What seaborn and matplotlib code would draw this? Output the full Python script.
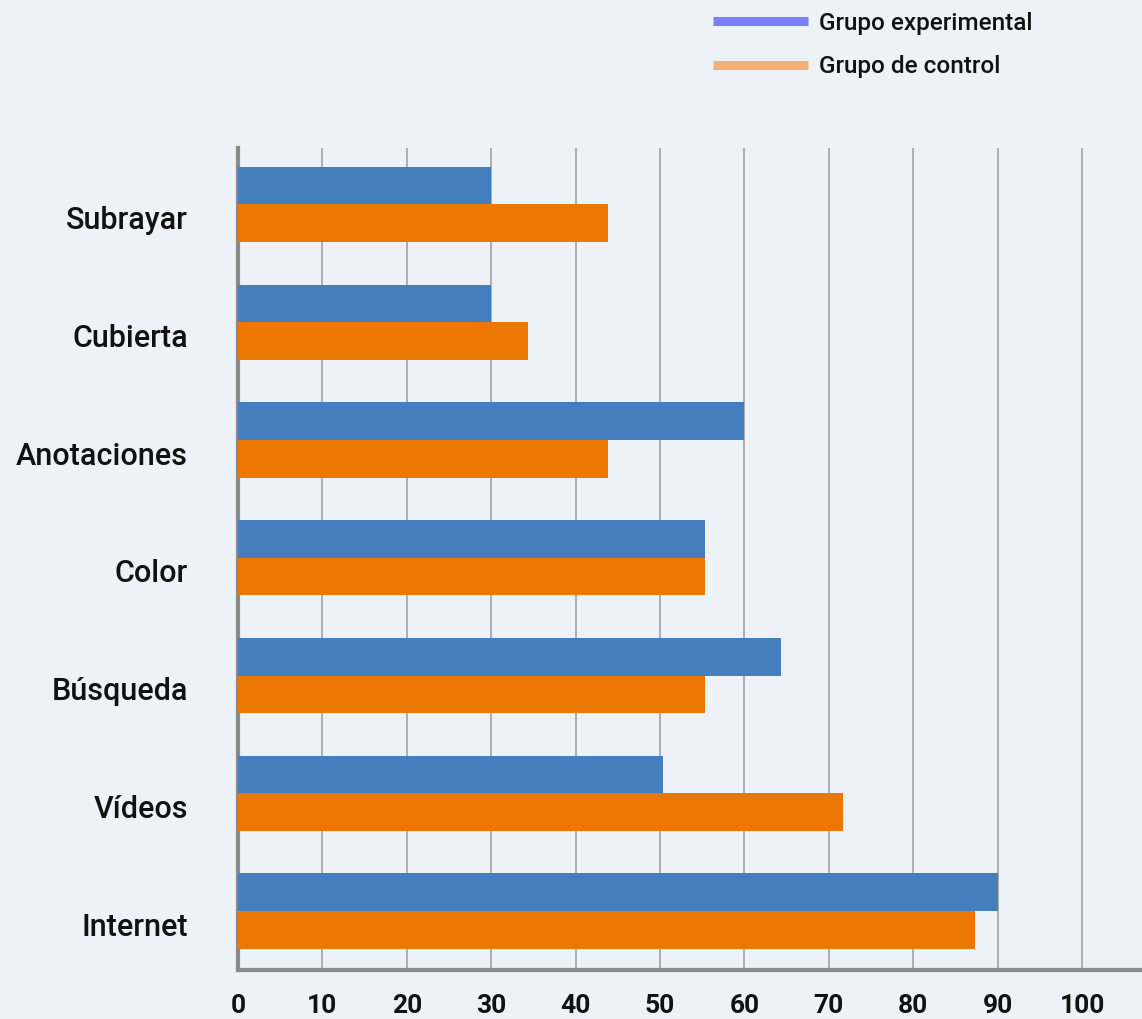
import matplotlib
matplotlib.use("Agg")
import matplotlib.pyplot as plt
import matplotlib.transforms as mtransforms
from matplotlib.lines import Line2D
import pandas as pd
import seaborn as sns

categorias = ["Subrayar", "Cubierta", "Anotaciones", "Color", "Búsqueda", "Vídeos", "Internet"]
experimental = [30, 30, 60, 55.3, 64.3, 50.3, 90]
control = [43.8, 34.4, 43.8, 55.3, 55.3, 71.7, 87.3]
grupos = ["Grupo experimental", "Grupo de control"]
xticks = [0, 10, 20, 30, 40, 50, 60, 70, 80, 90, 100]

bg = "#EDF1F8"
bar_colors = ["#447EBD", "#ED7703"]
legend_colors = ["#7B80F7", "#F7B070"]

df = pd.DataFrame({
    "categoria": categorias * 2,
    "valor": experimental + control,
    "grupo": [grupos[0]] * len(categorias) + [grupos[1]] * len(categorias),
})

sns.set_style("white")
plt.rcParams["font.family"] = ["Roboto", "DejaVu Sans"]
plt.rcParams["text.color"] = "#111111"
plt.rcParams["xtick.color"] = "#111111"
plt.rcParams["ytick.color"] = "#111111"

fig = plt.figure(figsize=(11.42, 10.19), dpi=100, facecolor=bg)
ax = fig.add_axes([0.2084, 0.0481, 0.7916, 0.8067])
ax.set_facecolor(bg)

sns.barplot(data=df, y="categoria", x="valor", hue="grupo", order=categorias,
            hue_order=grupos, palette=bar_colors, orient="h", width=0.64,
            saturation=1, ax=ax, legend=False, linewidth=0, zorder=3)

ax.set_xlim(0, 107.1)
ax.set_ylim(6.5, -0.48)
ax.set_xticks(xticks)
ax.set_xticklabels([str(t) for t in xticks], fontsize=19, fontweight="bold")
ax.set_xlabel("")
ax.set_ylabel("")
ax.xaxis.grid(True, color="#9A9A9A", linewidth=1.1, zorder=0)
ax.yaxis.grid(False)
ax.set_axisbelow(True)

for s in ["top", "right"]:
    ax.spines[s].set_visible(False)
for s in ["left", "bottom"]:
    ax.spines[s].set_color("#8A8A8A")
    ax.spines[s].set_linewidth(3)

ax.tick_params(axis="x", length=7, width=1.1, color="#9A9A9A", pad=10)
ax.tick_params(axis="y", length=0, pad=36)
shift = mtransforms.ScaledTranslation(0, -13 / 100, fig.dpi_scale_trans)
for lab in ax.get_yticklabels():
    lab.set_fontsize(22)
    lab.set_fontweight("medium")
    lab.set_transform(lab.get_transform() + shift)

handles = [Line2D([0], [0], color=c, linewidth=6.5, solid_capstyle="butt") for c in legend_colors]
fig.legend(handles, grupos, loc="upper left", bbox_to_anchor=(0.605, 1.01),
           frameon=False, handlelength=3.9, handletextpad=0.45,
           labelspacing=0.85, prop={"size": 17.5, "weight": "medium"})

fig.savefig("out.png", dpi=100, facecolor=bg)
